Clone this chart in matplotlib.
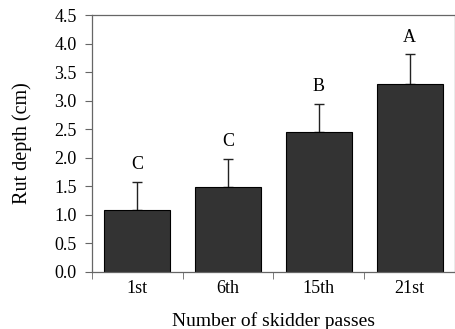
import matplotlib
matplotlib.use("Agg")
import matplotlib.pyplot as plt
import numpy as np

passes = ["1st", "6th", "15th", "21st"]
rut_depth = [1.08, 1.48, 2.46, 3.30]
rut_err = [0.50, 0.50, 0.49, 0.51]
groups = ["C", "C", "B", "A"]

plt.rcParams['font.family'] = ['Liberation Serif', 'DejaVu Serif']

fig = plt.figure(figsize=(4.56, 3.29), dpi=100)
ax = fig.add_axes([92 / 456, 1 - 272 / 329, (455 - 92) / 456, (272 - 15) / 329])

x = np.arange(len(passes))
ax.bar(x, rut_depth, width=0.73, color="#333333", edgecolor="black", linewidth=0.8, zorder=2)
ax.errorbar(x, rut_depth, yerr=[np.zeros(len(x)), rut_err], fmt="none",
            ecolor="#222222", elinewidth=1.0, capsize=3.5, capthick=1.0, zorder=1)

for xi, v, e, g in zip(x, rut_depth, rut_err, groups):
    ax.text(xi, v + e + 0.15, g, ha="center", va="bottom", fontsize=13)

ax.set_xlim(-0.5, 3.5)
ax.set_ylim(0, 4.5)
ax.set_yticks(np.arange(0, 4.51, 0.5))
ax.set_yticklabels(["%.1f" % t for t in np.arange(0, 4.51, 0.5)])
ax.set_xticks(x)
ax.set_xticklabels(passes)
ax.set_xticks(np.arange(-0.5, 3.6, 1.0), minor=True)
ax.tick_params(axis="x", which="major", length=0, labelsize=13, pad=6)
ax.tick_params(axis="x", which="minor", length=5, direction="out", color="#666666")
ax.tick_params(axis="y", length=5, direction="out", labelsize=13, color="#666666", pad=6)

for s in ax.spines.values():
    s.set_color("#666666")
    s.set_linewidth(0.9)

ax.set_xlabel("Number of skidder passes", fontsize=14, labelpad=11)
ax.set_ylabel("Rut depth (cm)", fontsize=14.5, labelpad=16)

fig.savefig("out.png", dpi=100)
